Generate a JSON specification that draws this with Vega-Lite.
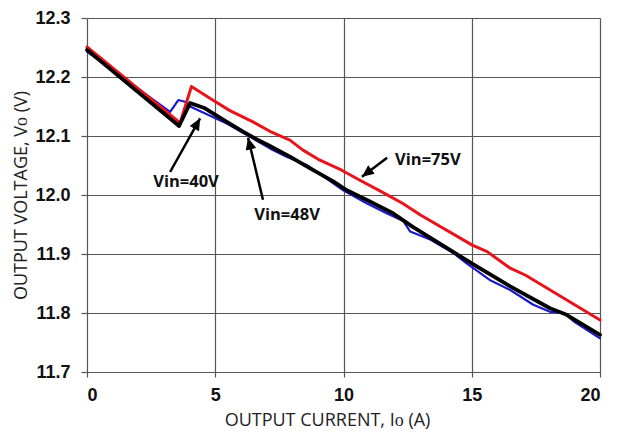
{
  "$schema": "https://vega.github.io/schema/vega-lite/v6.json",
  "autosize": "none",
  "width": 513,
  "height": 354,
  "padding": {"left": 87, "top": 18, "right": 27, "bottom": 62},
  "background": "white",
  "config": {"view": {"stroke": null}},
  "datasets": {
    "curves": [
      {"vin": "40V", "io": 0, "vo": 12.243},
      {"vin": "40V", "io": 3.24, "vo": 12.141},
      {"vin": "40V", "io": 3.56, "vo": 12.161},
      {"vin": "40V", "io": 3.82, "vo": 12.158},
      {"vin": "40V", "io": 4.02, "vo": 12.15},
      {"vin": "40V", "io": 5.45, "vo": 12.121},
      {"vin": "40V", "io": 6.22, "vo": 12.102},
      {"vin": "40V", "io": 7.13, "vo": 12.079},
      {"vin": "40V", "io": 7.78, "vo": 12.065},
      {"vin": "40V", "io": 8.56, "vo": 12.051},
      {"vin": "40V", "io": 9.34, "vo": 12.028},
      {"vin": "40V", "io": 9.99, "vo": 12.008},
      {"vin": "40V", "io": 10.9, "vo": 11.986},
      {"vin": "40V", "io": 11.68, "vo": 11.969},
      {"vin": "40V", "io": 12.33, "vo": 11.956},
      {"vin": "40V", "io": 12.6, "vo": 11.938},
      {"vin": "40V", "io": 13.4, "vo": 11.924},
      {"vin": "40V", "io": 14.3, "vo": 11.901},
      {"vin": "40V", "io": 14.8, "vo": 11.884},
      {"vin": "40V", "io": 15.7, "vo": 11.856},
      {"vin": "40V", "io": 16.5, "vo": 11.839},
      {"vin": "40V", "io": 17.4, "vo": 11.814},
      {"vin": "40V", "io": 18.05, "vo": 11.802},
      {"vin": "40V", "io": 18.6, "vo": 11.8},
      {"vin": "40V", "io": 19.0, "vo": 11.785},
      {"vin": "40V", "io": 20, "vo": 11.757},
      {"vin": "75V", "io": 0, "vo": 12.251},
      {"vin": "75V", "io": 3.63, "vo": 12.122},
      {"vin": "75V", "io": 4.07, "vo": 12.184},
      {"vin": "75V", "io": 4.9, "vo": 12.161},
      {"vin": "75V", "io": 5.57, "vo": 12.143},
      {"vin": "75V", "io": 6.47, "vo": 12.124},
      {"vin": "75V", "io": 7.13, "vo": 12.108},
      {"vin": "75V", "io": 7.91, "vo": 12.093},
      {"vin": "75V", "io": 8.42, "vo": 12.076},
      {"vin": "75V", "io": 9.08, "vo": 12.059},
      {"vin": "75V", "io": 9.93, "vo": 12.042},
      {"vin": "75V", "io": 10.64, "vo": 12.025},
      {"vin": "75V", "io": 11.42, "vo": 12.007},
      {"vin": "75V", "io": 12.3, "vo": 11.986},
      {"vin": "75V", "io": 13.0, "vo": 11.966},
      {"vin": "75V", "io": 15.02, "vo": 11.915},
      {"vin": "75V", "io": 15.6, "vo": 11.904},
      {"vin": "75V", "io": 16.5, "vo": 11.876},
      {"vin": "75V", "io": 17.1, "vo": 11.864},
      {"vin": "75V", "io": 20, "vo": 11.788},
      {"vin": "48V", "io": 0, "vo": 12.246},
      {"vin": "48V", "io": 3.59, "vo": 12.117},
      {"vin": "48V", "io": 4.02, "vo": 12.156},
      {"vin": "48V", "io": 4.6, "vo": 12.147},
      {"vin": "48V", "io": 5.45, "vo": 12.124},
      {"vin": "48V", "io": 6.1, "vo": 12.107},
      {"vin": "48V", "io": 6.55, "vo": 12.096},
      {"vin": "48V", "io": 7.13, "vo": 12.083},
      {"vin": "48V", "io": 7.91, "vo": 12.065},
      {"vin": "48V", "io": 8.7, "vo": 12.045},
      {"vin": "48V", "io": 9.6, "vo": 12.023},
      {"vin": "48V", "io": 10.13, "vo": 12.008},
      {"vin": "48V", "io": 11.03, "vo": 11.989},
      {"vin": "48V", "io": 11.93, "vo": 11.969},
      {"vin": "48V", "io": 12.7, "vo": 11.946},
      {"vin": "48V", "io": 14.15, "vo": 11.907},
      {"vin": "48V", "io": 15.0, "vo": 11.884},
      {"vin": "48V", "io": 16.5, "vo": 11.845},
      {"vin": "48V", "io": 18.05, "vo": 11.808},
      {"vin": "48V", "io": 18.7, "vo": 11.797},
      {"vin": "48V", "io": 20, "vo": 11.763}
    ],
    "notes": [
      {"label": "Vin=40V", "tx": 3.86, "ty": 12.022, "x1": 3.24, "y1": 12.039, "x2": 4.41, "y2": 12.13, "ang": 29},
      {"label": "Vin=48V", "tx": 7.8, "ty": 11.966, "x1": 6.86, "y1": 11.992, "x2": 6.28, "y2": 12.097, "ang": 346},
      {"label": "Vin=75V", "tx": 13.29, "ty": 12.059, "x1": 11.7, "y1": 12.063, "x2": 10.72, "y2": 12.031, "ang": 233}
    ]
  },
  "layer": [
    {
      "data": {"name": "curves"},
      "mark": {"type": "line", "strokeJoin": "round", "strokeCap": "round"},
      "encoding": {
        "x": {
          "field": "io", "type": "quantitative",
          "scale": {"domain": [0, 20], "nice": false, "zero": false},
          "axis": {
            "values": [0, 5, 10, 15, 20],
            "title": "OUTPUT CURRENT, Iᴏ (A)",
            "titleFont": "Open Sans", "titleFontWeight": "normal", "titleFontSize": 18, "titleColor": "#222",
            "titleX": 240, "titleAnchor": "middle", "titlePadding": 7,
            "labelFont": "Liberation Sans", "labelFontWeight": "bold", "labelFontSize": 18, "labelColor": "#111",
            "labelPadding": 9,
            "domain": false, "grid": true, "gridColor": "#555", "gridWidth": 1.2, "gridOpacity": 1,
            "ticks": true, "tickColor": "#555", "tickSize": 5, "tickWidth": 1.2
          }
        },
        "y": {
          "field": "vo", "type": "quantitative",
          "scale": {"domain": [11.7, 12.3], "nice": false, "zero": false},
          "axis": {
            "values": [11.7, 11.8, 11.9, 12.0, 12.1, 12.2, 12.3],
            "format": ".1f",
            "title": "OUTPUT VOLTAGE, Vᴏ (V)",
            "titleFont": "Open Sans", "titleFontWeight": "normal", "titleFontSize": 18, "titleColor": "#222",
            "titlePadding": 4,
            "labelFont": "Liberation Sans", "labelFontWeight": "bold", "labelFontSize": 18, "labelColor": "#111",
            "labelPadding": 11,
            "domain": false, "grid": true, "gridColor": "#555", "gridWidth": 1.2, "gridOpacity": 1,
            "ticks": true, "tickColor": "#555", "tickSize": 6, "tickWidth": 1.2
          }
        },
        "color": {
          "field": "vin", "type": "nominal",
          "scale": {"domain": ["40V", "75V", "48V"], "range": ["#1a1acc", "#e8141c", "#000000"]},
          "legend": null
        },
        "strokeWidth": {
          "field": "vin", "type": "nominal",
          "scale": {"domain": ["40V", "75V", "48V"], "range": [2.2, 3.8, 3.3]},
          "legend": null
        },
        "order": {"field": "io", "type": "quantitative"}
      }
    },
    {
      "data": {"name": "notes"},
      "mark": {"type": "rule", "color": "black", "strokeWidth": 2.5},
      "encoding": {
        "x": {"field": "x1", "type": "quantitative"},
        "y": {"field": "y1", "type": "quantitative"},
        "x2": {"field": "x2"},
        "y2": {"field": "y2"}
      }
    },
    {
      "data": {"name": "notes"},
      "mark": {"type": "point", "shape": "M0,0L-0.45,1L0.45,1Z", "filled": true, "color": "black", "opacity": 1, "size": 560},
      "encoding": {
        "x": {"field": "x2", "type": "quantitative"},
        "y": {"field": "y2", "type": "quantitative"},
        "angle": {"field": "ang", "type": "quantitative", "scale": null}
      }
    },
    {
      "data": {"name": "notes"},
      "mark": {"type": "text", "font": "Open Sans", "fontWeight": "bold", "fontSize": 16.5, "color": "#111", "align": "center", "baseline": "middle"},
      "encoding": {
        "x": {"field": "tx", "type": "quantitative"},
        "y": {"field": "ty", "type": "quantitative"},
        "text": {"field": "label"}
      }
    }
  ]
}
